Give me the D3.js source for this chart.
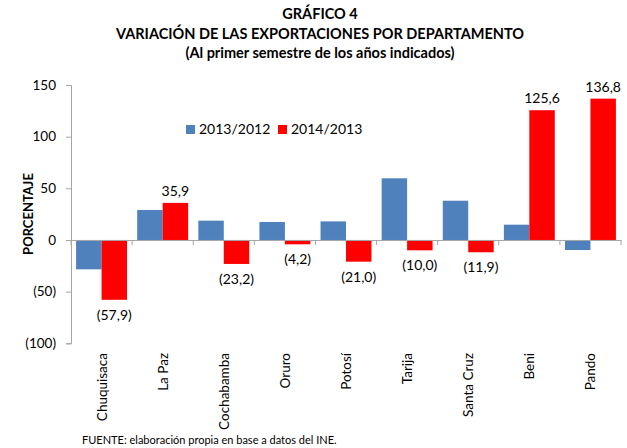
<!DOCTYPE html>
<html><head><meta charset="utf-8">
<script src="https://cdn.jsdelivr.net/npm/d3@7"></script>
<style>body{margin:0;background:#fff}svg{display:block}text{font-family:Lato,"Open Sans",sans-serif}</style>
</head><body><svg id="c" width="627" height="448"></svg>
<script>
const categories = ["Chuquisaca","La Paz","Cochabamba","Oruro","Potosí","Tarija","Santa Cruz","Beni","Pando"];
const series2013 = [-28.4, 29.0, 18.7, 17.4, 18.0, 59.7, 38.0, 14.8, -9.7];
const series2014 = [-57.9, 35.9, -23.2, -4.2, -21.0, -10.0, -11.9, 125.6, 136.8];
const seriesNames = ["2013/2012","2014/2013"];
const yTicks = [-100, -50, 0, 50, 100, 150];
const titleLines = ["GRÁFICO 4","VARIACIÓN DE LAS EXPORTACIONES POR DEPARTAMENTO","(Al primer semestre de los años indicados)"];

const svg = d3.select("#c");
const colors = ["#4F81BD", "#FF0000"];
const x0 = 71, x1 = 621;
const y = d3.scaleLinear().domain([-100, 150]).range([343.3, 85]);
const x = d3.scaleBand().domain(categories).range([x0, x1]).paddingInner(0).paddingOuter(0);
const xs = d3.scaleBand().domain([0,1]).range([0, x.bandwidth()]).paddingInner(0).paddingOuter(0.2);
const fmt = v => { const s = Math.abs(v).toFixed(1).replace(".", ","); return v < 0 ? "(" + s + ")" : s; };

// title
svg.selectAll("text.title").data(titleLines).enter().append("text")
  .attr("x", 320).attr("y", (d,i) => 19 + i*19.5)
  .attr("text-anchor","middle").attr("font-weight","bold").attr("font-size",14.5)
  .text(d => d);

// y axis
const yAxis = svg.append("g").attr("transform", `translate(${x0},0)`)
  .call(d3.axisLeft(y).tickValues(yTicks).tickSize(5).tickFormat(d => d < 0 ? "(" + (-d) + ")" : d));
yAxis.select(".domain").attr("stroke","#a6a6a6");
yAxis.selectAll(".tick line").attr("stroke","#a6a6a6");
yAxis.selectAll(".tick text").attr("font-size",13.5).attr("fill","#000").attr("x",-15).attr("font-family","Lato,sans-serif");

// bars
const data = [series2013, series2014];
data.forEach((vals, si) => {
  svg.append("g").selectAll("rect").data(vals).enter().append("rect")
    .attr("x", (d,i) => x(categories[i]) + xs(si))
    .attr("width", xs.bandwidth())
    .attr("y", d => y(Math.max(0,d)))
    .attr("height", d => Math.abs(y(d) - y(0)))
    .attr("fill", colors[si]);
});

// x axis
const xAxis = svg.append("g").attr("transform", `translate(0,${y(0)})`)
  .call(d3.axisBottom(x).tickSize(0).tickFormat(""));
xAxis.select(".domain").attr("stroke","#a6a6a6");
svg.append("g").selectAll("line").data(d3.range(categories.length + 1)).enter().append("line")
  .attr("x1", i => x0 + i * x.step()).attr("x2", i => x0 + i * x.step())
  .attr("y1", y(0)).attr("y2", y(0) + 5).attr("stroke","#a6a6a6");

// x labels
svg.append("g").selectAll("text").data(categories).enter().append("text")
  .attr("transform", d => `translate(${x(d) + x.bandwidth()/2 + 5},353) rotate(-90)`)
  .attr("text-anchor","end").attr("font-size",13.5).text(d => d);

// data labels (red series)
svg.append("g").selectAll("text").data(series2014).enter().append("text")
  .attr("x", (d,i) => x(categories[i]) + xs(1) + xs.bandwidth()/2)
  .attr("y", d => d >= 0 ? y(d) - 7 : y(d) + 20)
  .attr("text-anchor","middle").attr("font-size",14).text(d => fmt(d));

// y title
svg.append("text").attr("transform","translate(33,214) rotate(-90)")
  .attr("text-anchor","middle").attr("font-weight","bold").attr("font-size",13).text("PORCENTAJE");

// legend
const lg = svg.append("g");
const legX = [186, 278];
seriesNames.forEach((n, i) => {
  lg.append("rect").attr("x", legX[i]).attr("y", 125).attr("width", 9).attr("height", 9).attr("fill", colors[i]);
  lg.append("text").attr("x", legX[i] + 13).attr("y", 134).attr("font-size",14).text(n);
});

// footer
svg.append("text").attr("x",82).attr("y",444).attr("font-size",11).text("FUENTE: elaboración propia en base a datos del INE.");
</script></body></html>
